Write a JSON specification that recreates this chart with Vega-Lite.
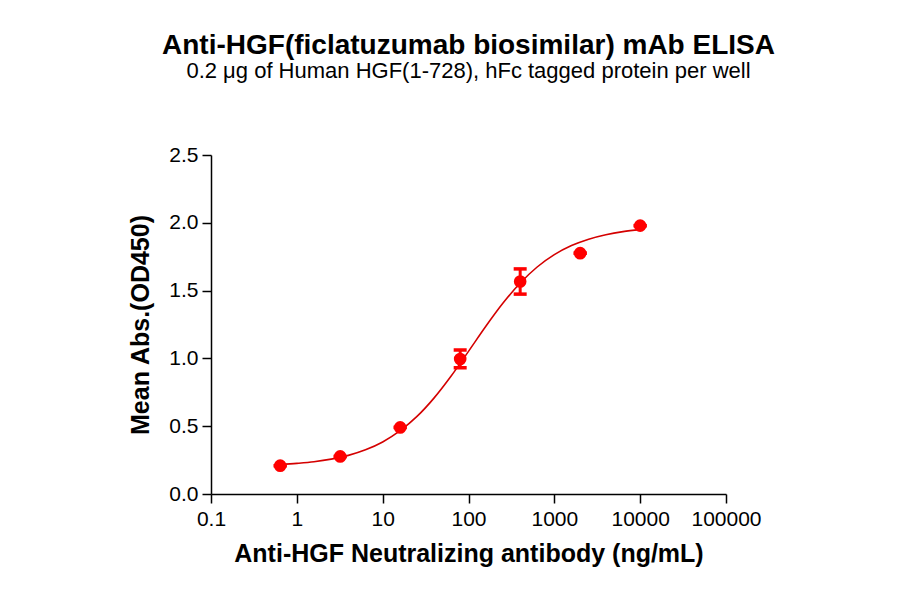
{
  "$schema": "https://vega.github.io/schema/vega-lite/v6.json",
  "autosize": {"type": "none"},
  "width": 515,
  "height": 339,
  "padding": {"left": 211, "top": 155, "right": 174, "bottom": 100},
  "background": "white",
  "title": {
    "text": "Anti-HGF(ficlatuzumab biosimilar) mAb ELISA",
    "subtitle": "0.2 μg of Human HGF(1-728), hFc tagged protein per well",
    "anchor": "middle",
    "font": "Liberation Sans",
    "fontSize": 28,
    "fontWeight": "bold",
    "color": "black",
    "subtitleFont": "Liberation Sans",
    "subtitleFontSize": 22,
    "subtitleColor": "black",
    "subtitlePadding": 1,
    "offset": 62
  },
  "datasets": {
    "points": [
      {"conc": 0.64, "od": 0.209, "lo": 0.209, "hi": 0.209},
      {"conc": 3.2, "od": 0.277, "lo": 0.277, "hi": 0.277},
      {"conc": 16, "od": 0.491, "lo": 0.491, "hi": 0.491},
      {"conc": 80, "od": 0.995, "lo": 0.931, "hi": 1.062},
      {"conc": 400, "od": 1.567, "lo": 1.474, "hi": 1.66},
      {"conc": 2000, "od": 1.776, "lo": 1.776, "hi": 1.776},
      {"conc": 10000, "od": 1.979, "lo": 1.979, "hi": 1.979}
    ],
    "curve": [
      {"conc": 0.64, "od": 0.217},
      {"conc": 1, "od": 0.226},
      {"conc": 1.585, "od": 0.238},
      {"conc": 2.512, "od": 0.257},
      {"conc": 3.981, "od": 0.285},
      {"conc": 6.31, "od": 0.326},
      {"conc": 10, "od": 0.384},
      {"conc": 15.85, "od": 0.465},
      {"conc": 25.12, "od": 0.572},
      {"conc": 39.81, "od": 0.709},
      {"conc": 63.1, "od": 0.872},
      {"conc": 100, "od": 1.052},
      {"conc": 158.5, "od": 1.235},
      {"conc": 251.2, "od": 1.406},
      {"conc": 398.1, "od": 1.554},
      {"conc": 631, "od": 1.674},
      {"conc": 1000, "od": 1.765},
      {"conc": 1585, "od": 1.832},
      {"conc": 2512, "od": 1.879},
      {"conc": 3981, "od": 1.912},
      {"conc": 6310, "od": 1.935},
      {"conc": 10000, "od": 1.95}
    ]
  },
  "encoding": {
    "x": {
      "field": "conc",
      "type": "quantitative",
      "scale": {"type": "log", "domain": [0.1, 100000], "nice": false},
      "axis": {
        "title": "Anti-HGF Neutralizing antibody (ng/mL)",
        "values": [0.1, 1, 10, 100, 1000, 10000, 100000],
        "labelExpr": "datum.value < 1 ? '0.1' : format(datum.value, 'd')",
        "labelOverlap": false,
        "labelFlush": false,
        "labelBound": false,
        "grid": false,
        "tickSize": 9,
        "labelPadding": 5,
        "titlePadding": 12,
        "titleFontSize": 25
      }
    },
    "y": {
      "field": "od",
      "type": "quantitative",
      "scale": {"domain": [0, 2.5], "nice": false, "zero": true},
      "axis": {
        "title": "Mean Abs.(OD450)",
        "values": [0, 0.5, 1, 1.5, 2, 2.5],
        "format": ".1f",
        "labelOverlap": false,
        "grid": false,
        "tickSize": 9,
        "labelPadding": 4,
        "titlePadding": 15,
        "titleFontSize": 25
      }
    }
  },
  "layer": [
    {
      "data": {"name": "curve"},
      "mark": {"type": "line", "color": "#d40000", "strokeWidth": 1.6, "interpolate": "monotone"}
    },
    {
      "data": {"name": "points"},
      "mark": {"type": "errorbar", "color": "#ff0000", "opacity": 1, "thickness": 3, "ticks": {"size": 13, "thickness": 3.5, "color": "#ff0000", "opacity": 1}},
      "encoding": {
        "y": {"field": "lo", "type": "quantitative"},
        "y2": {"field": "hi"}
      }
    },
    {
      "data": {"name": "points"},
      "mark": {"type": "circle", "color": "#ff0000", "opacity": 1, "size": 160}
    }
  ],
  "config": {
    "view": {"stroke": null},
    "font": "Liberation Sans",
    "axis": {
      "domainColor": "black",
      "domainWidth": 1.5,
      "tickColor": "black",
      "tickWidth": 1.5,
      "labelFont": "Liberation Sans",
      "labelFontSize": 21,
      "labelColor": "black",
      "titleFont": "Liberation Sans",
      "titleFontSize": 24,
      "titleFontWeight": "bold",
      "titleColor": "black"
    }
  }
}
